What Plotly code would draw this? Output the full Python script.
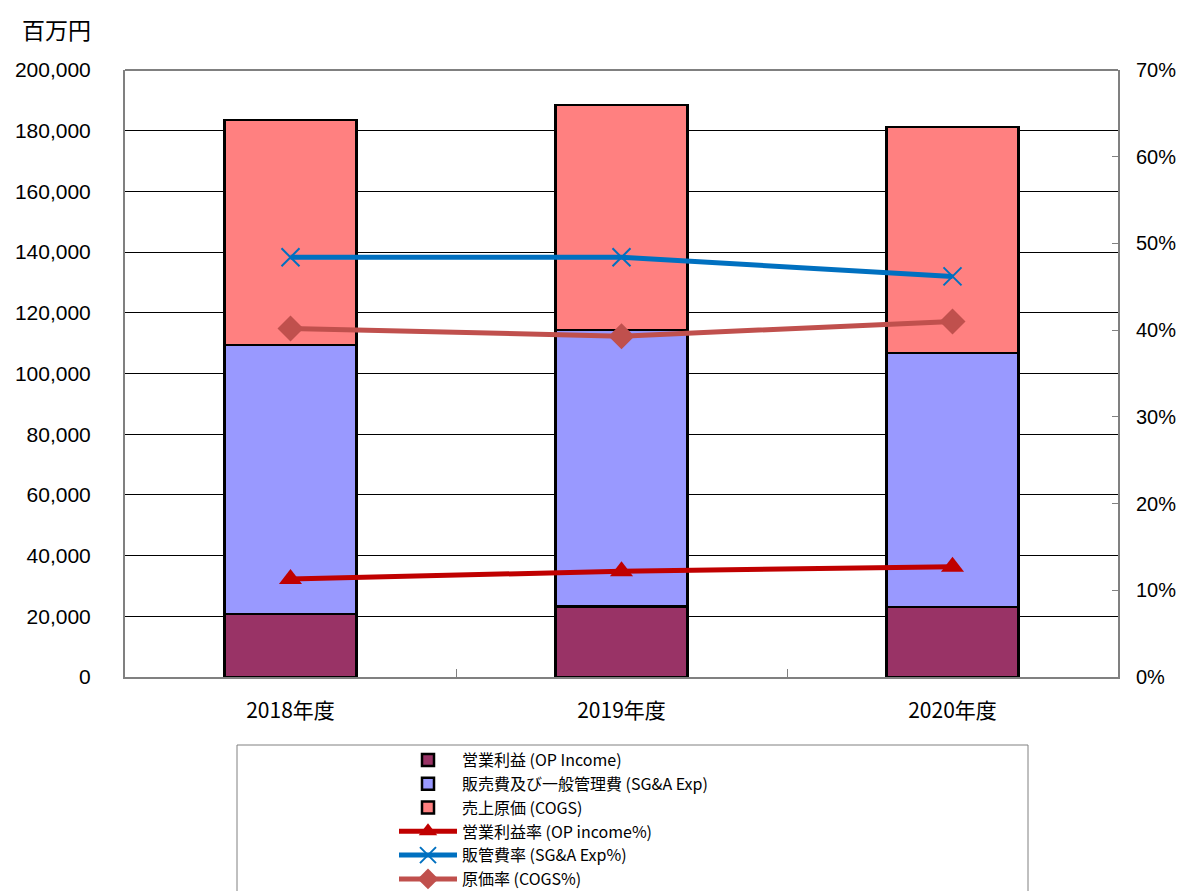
import plotly.graph_objects as go

years = ["2018年度", "2019年度", "2020年度"]
op_income = [20800, 23300, 23100]
sga_exp = [88600, 91000, 83700]
cogs = [74100, 74200, 74400]
op_pct = [11.3, 12.2, 12.7]
sga_pct = [48.4, 48.4, 46.2]
cogs_pct = [40.2, 39.3, 41.0]

names_bar = ["営業利益 (OP Income)", "販売費及び一般管理費 (SG&A Exp)", "売上原価 (COGS)"]
names_line = ["営業利益率 (OP income%)", "販管費率 (SG&A Exp%)", "原価率 (COGS%)"]

OFF = 8  # default body margin of the page
W, H = 1185 - OFF, 891 - OFF
# plot area in screen pixels
L, R, T, B = 125, 1118, 70, 677
pw, ph = R - L, B - T

def px(x):
    return (x - L) / pw

def py(y):
    return (B - y) / ph

FONT = "Liberation Sans, Noto Sans CJK JP, sans-serif"

fig = go.Figure()
bar_colors = ["#993366", "#9999FF", "#FF8080"]
for name, vals, col in zip(names_bar, [op_income, sga_exp, cogs], bar_colors):
    fig.add_trace(go.Bar(
        x=years, y=vals, name=name, width=0.4,
        marker=dict(color=col, line=dict(color="#000000", width=2.5)),
        yaxis="y",
    ))

line_specs = [
    (names_line[0], op_pct, "#C00000", "triangle-up", 20, None),
    (names_line[1], sga_pct, "#0070C0", "x-thin", 18, 2),
    (names_line[2], cogs_pct, "#C0504D", "diamond", 20, None),
]
for name, vals, col, sym, size, lw in line_specs:
    mk = dict(symbol=sym, size=size, color=col)
    if lw:
        mk["line"] = dict(color=col, width=lw)
    fig.add_trace(go.Scatter(
        x=years, y=[v / 100 for v in vals], name=name, mode="lines+markers",
        line=dict(color=col, width=5), marker=mk, yaxis="y2",
    ))

fig.update_layout(
    width=W, height=H,
    margin=dict(l=L - OFF, r=W - (R - OFF), t=T - OFF, b=H - (B - OFF), autoexpand=False),
    paper_bgcolor="white", plot_bgcolor="white",
    barmode="stack",
    font=dict(family=FONT, size=20, color="#000000"),
    showlegend=True,
    legend=dict(
        x=px(394), y=py(743), xanchor="left", yanchor="top",
        traceorder="normal", tracegroupgap=0,
        font=dict(family="Noto Sans CJK JP, Liberation Sans", size=16, color="#000000"),
        bgcolor="rgba(0,0,0,0)", borderwidth=0, itemwidth=58,
    ),
    xaxis=dict(
        range=[-0.5, 2.5], type="category",
        showline=True, linecolor="#808080", linewidth=2,
        ticks="inside", tickson="boundaries", ticklen=8, tickcolor="#808080",
        tickfont=dict(family="Noto Sans CJK JP, Liberation Sans", size=21),
        ticklabelstandoff=14,
        showgrid=False, mirror=False,
    ),
    yaxis=dict(
        range=[0, 200000], dtick=20000, tickformat=",d",
        showline=True, linecolor="#808080", linewidth=2,
        showgrid=True, gridcolor="#000000", gridwidth=1,
        ticks="", tickfont=dict(size=21), ticklabelstandoff=28,
        zeroline=False,
    ),
    yaxis2=dict(
        range=[0, 0.7], dtick=0.1, tickformat=".0%", overlaying="y", side="right",
        showline=True, linecolor="#808080", linewidth=2,
        showgrid=False, ticks="inside", ticklen=6, tickcolor="#808080",
        tickfont=dict(size=20), ticklabelstandoff=12, zeroline=False,
    ),
    shapes=[
        dict(type="line", xref="paper", yref="paper", x0=0, x1=1, y0=1, y1=1,
             line=dict(color="#808080", width=2)),
        dict(type="rect", xref="paper", yref="paper", x0=px(237), x1=px(1028),
             y0=py(905), y1=py(745), line=dict(color="#808080", width=1)),
    ],
    annotations=[
        dict(text="百万円", xref="paper", yref="paper", x=px(20), y=py(29),
             xanchor="left", yanchor="middle", showarrow=False,
             font=dict(family="Noto Sans CJK JP", size=23, color="#000000")),
    ],
)

fig.write_html("out.html")
